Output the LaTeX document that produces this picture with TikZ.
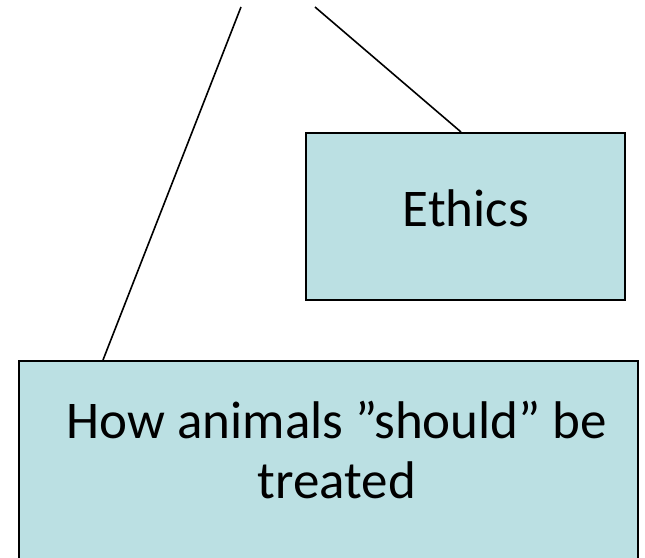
\documentclass[tikz,border=0pt]{standalone}
\usepackage{fontspec}
\setmainfont{Carlito}
\definecolor{boxfill}{HTML}{BBE0E3}
\begin{document}
\begin{tikzpicture}[x=1pt,y=-1pt,
  boxstyle/.style={draw=black,fill=boxfill,line width=2pt},
  conn/.style={line width=1.6pt},
  lbl/.style={font=\fontsize{53}{60}\selectfont,align=center,inner sep=0pt}]
\useasboundingbox (0,0) rectangle (645,557);
\clip (0,0) rectangle (645,557);
\fill[white] (0,0) rectangle (645,557);
\draw[boxstyle] (306,133) rectangle (625,300);
\draw[boxstyle] (19,361) rectangle (638,580);
\node[lbl] (ethics) at (466,208) {Ethics};
\node[lbl] (how) at (337,450) {How animals ”should” be\\treated};
\coordinate (ltop) at (241,7);
\coordinate (lbot) at (103,360);
\coordinate (rtop) at (315,7);
\coordinate (rbot) at (461,132);
\draw[conn] (ltop) -- (lbot);
\draw[conn] (rtop) -- (rbot);
\end{tikzpicture}
\end{document}
